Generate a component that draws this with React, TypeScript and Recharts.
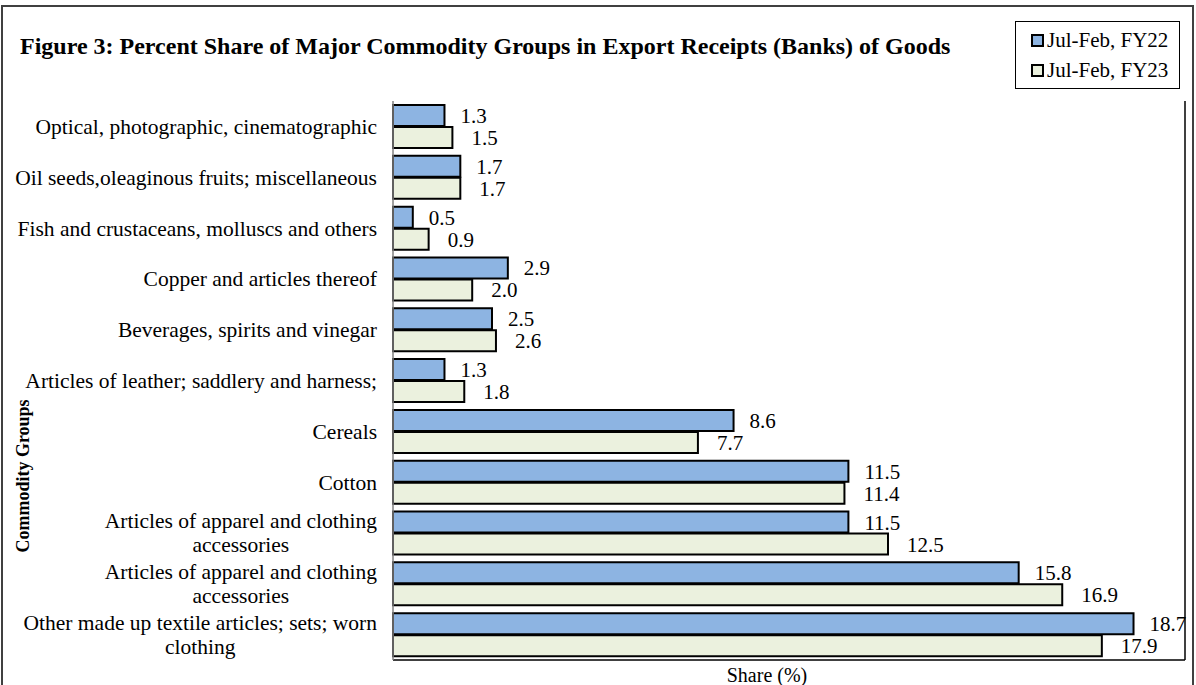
import React from 'react';
import { BarChart, Bar, XAxis, YAxis, LabelList, ReferenceLine } from 'recharts';

const categories: string[] = [
  'Optical, photographic, cinematographic',
  'Oil seeds,oleaginous fruits; miscellaneous',
  'Fish and crustaceans, molluscs and others',
  'Copper and articles thereof',
  'Beverages, spirits and vinegar',
  'Articles of leather; saddlery and harness;',
  'Cereals',
  'Cotton',
  'Articles of apparel and clothing\naccessories',
  'Articles of apparel and clothing\naccessories',
  'Other made up textile articles; sets; worn\nclothing',
];

const fy22: number[] = [1.3, 1.7, 0.5, 2.9, 2.5, 1.3, 8.6, 11.5, 11.5, 15.8, 18.7];
const fy23: number[] = [1.5, 1.7, 0.9, 2.0, 2.6, 1.8, 7.7, 11.4, 12.5, 16.9, 17.9];

const seriesNames = ['Jul-Feb, FY22', 'Jul-Feb, FY23'];
const seriesColors = ['#8DB4E2', '#EBF1DE'];

const data = categories.map((name, i) => ({ name, fy22: fy22[i], fy23: fy23[i] }));

const FONT = '"Liberation Serif", "Times New Roman", Times, serif';
const TICK_SIZE = 21.5;

let ctx: CanvasRenderingContext2D | null = null;
function measure(s: string): number {
  if (!ctx) {
    const c = document.createElement('canvas');
    ctx = c.getContext('2d');
  }
  if (!ctx) return s.length * 9;
  ctx.font = `${TICK_SIZE}px ${FONT}`;
  return ctx.measureText(s).width;
}

function CategoryTick(props: any) {
  const { x, y, payload } = props;
  const lines = String(payload.value).split('\n');
  const lh = 24;
  const y0 = y - ((lines.length - 1) * lh) / 2;
  if (lines.length === 1) {
    return (
      <text x={x} y={y} dy="0.35em" textAnchor="end" fontSize={TICK_SIZE} fontFamily={FONT} fill="#000">
        {lines[0]}
      </text>
    );
  }
  const w = Math.max(...lines.map(measure));
  const cx = x - w / 2;
  return (
    <text textAnchor="middle" fontSize={TICK_SIZE} fontFamily={FONT} fill="#000">
      {lines.map((l, i) => (
        <tspan key={i} x={cx} y={y0 + i * lh} dy="0.35em">
          {l}
        </tspan>
      ))}
    </text>
  );
}

function LegendBox() {
  return (
    <div
      style={{
        position: 'absolute',
        left: 1015,
        top: 21,
        width: 165,
        height: 68,
        border: '1px solid #000',
        boxSizing: 'border-box',
        background: '#fff',
        paddingTop: 3,
      }}
    >
      {seriesNames.map((n, i) => (
        <div
          key={n}
          style={{
            display: 'flex',
            alignItems: 'center',
            height: 30,
            paddingLeft: 15,
            fontFamily: FONT,
            fontSize: 21,
            color: '#000',
            lineHeight: '30px',
          }}
        >
          <span
            style={{
              display: 'inline-block',
              width: 13,
              height: 13,
              boxSizing: 'border-box',
              border: '2px solid #000',
              background: seriesColors[i],
              marginRight: 3,
            }}
          />
          <span>{n}</span>
        </div>
      ))}
    </div>
  );
}

const fmt = (v: any) => Number(v).toFixed(1);

export default function App() {
  return (
    <div style={{ position: 'absolute', left: 0, top: 0, width: 1196, height: 685, overflow: 'hidden', background: '#fff' }}>
      <div
        style={{
          position: 'absolute',
          left: 1,
          top: 5,
          width: 1193,
          height: 720,
          border: '2px solid #404040',
          boxSizing: 'border-box',
        }}
      />
      <div
        style={{
          position: 'absolute',
          left: 20,
          top: 33,
          fontFamily: FONT,
          fontWeight: 'bold',
          fontSize: 24,
          color: '#000',
          whiteSpace: 'nowrap',
          lineHeight: '27px',
        }}
      >
        Figure 3: Percent Share of Major Commodity Groups in Export Receipts (Banks) of Goods
      </div>
      <div style={{ position: 'absolute', left: 0, top: 0 }}>
        <BarChart
          width={1196}
          height={685}
          data={data}
          layout="vertical"
          margin={{ top: 101, right: 11, bottom: 0, left: 0 }}
          barCategoryGap={4}
          barGap={1}
        >
          <XAxis
            type="number"
            domain={[0, 20]}
            tick={false}
            tickLine={false}
            axisLine={{ stroke: '#000', strokeWidth: 1.5 }}
            height={25}
            label={{
              content: () => (
                <text x={767} y={682} textAnchor="middle" fontFamily={FONT} fontSize={20} fill="#000">
                  Share (%)
                </text>
              ),
            }}
          />
          <XAxis
            xAxisId="top"
            orientation="top"
            type="number"
            domain={[0, 20]}
            tick={false}
            tickLine={false}
            axisLine={{ stroke: '#808080', strokeWidth: 2 }}
            height={0}
          />
          <YAxis
            type="category"
            dataKey="name"
            width={393}
            tickSize={0}
            tickMargin={16}
            tickLine={false}
            axisLine={{ stroke: '#808080', strokeWidth: 1.5 }}
            tick={<CategoryTick />}
            interval={0}
            label={{
              content: () => (
                <text
                  transform="translate(29, 476) rotate(-90)"
                  textAnchor="middle"
                  fontFamily={FONT}
                  fontWeight="bold"
                  fontSize={18}
                  fill="#000"
                >
                  Commodity Groups
                </text>
              ),
            }}
          />
          <ReferenceLine x={20} stroke="#000" strokeWidth={1.5} ifOverflow="visible" />
          <Bar dataKey="fy22" name={seriesNames[0]} fill={seriesColors[0]} stroke="#000" strokeWidth={2} isAnimationActive={false}>
            <LabelList
              dataKey="fy22"
              position="right"
              offset={16}
              formatter={fmt}
              style={{ fontFamily: FONT, fontSize: 21, fill: '#000' }}
            />
          </Bar>
          <Bar dataKey="fy23" name={seriesNames[1]} fill={seriesColors[1]} stroke="#000" strokeWidth={2} isAnimationActive={false}>
            <LabelList
              dataKey="fy23"
              position="right"
              offset={19}
              formatter={fmt}
              style={{ fontFamily: FONT, fontSize: 21, fill: '#000' }}
            />
          </Bar>
        </BarChart>
      </div>
      <LegendBox />
    </div>
  );
}
